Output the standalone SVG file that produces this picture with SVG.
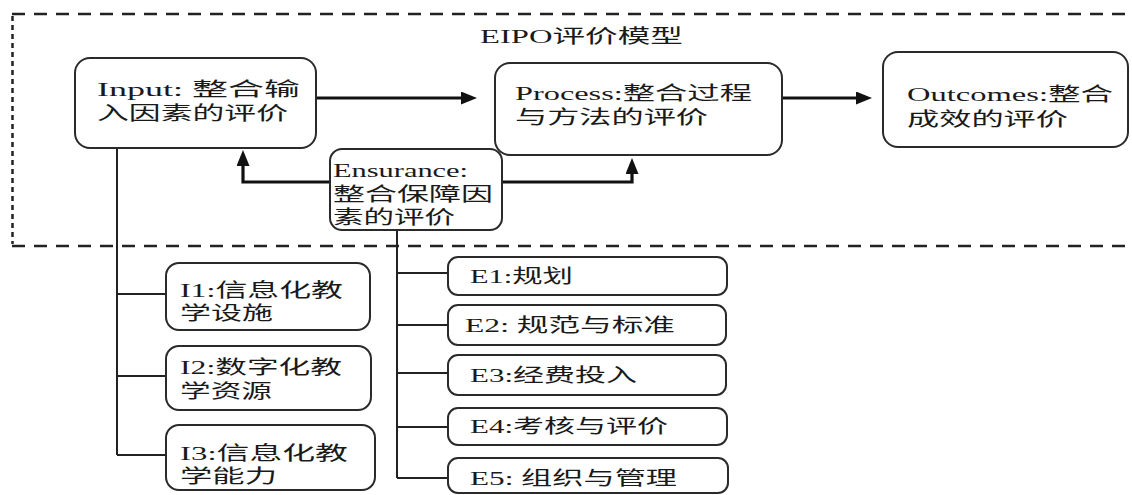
<svg xmlns="http://www.w3.org/2000/svg" width="1132" height="495" viewBox="0 0 1132 495">
  <style>
    .box { fill: #ffffff; stroke: #2a2a2a; stroke-width: 2; }
    .t { font-family: "Liberation Serif", "Noto Sans CJK SC", serif; font-size: 19px; fill: #1a1a1a; }
    .thick { fill: none; stroke: #111; stroke-width: 3.2; }
    .thin { fill: none; stroke: #222; stroke-width: 2; }
    .dash { fill: none; stroke: #222; stroke-width: 2.5; stroke-dasharray: 13 9; }
    .dashv { fill: none; stroke: #222; stroke-width: 2.5; stroke-dasharray: 5 4; }
  </style>
  <defs>
    <marker id="arr" markerUnits="userSpaceOnUse" markerWidth="16" markerHeight="13" refX="3" refY="6.5" orient="auto">
      <path d="M0,0 L16,6.5 L0,13 z" fill="#111"/>
    </marker>
  </defs>
  <rect width="1132" height="495" fill="#ffffff"/>

  <g id="frame">
    <line class="dash" x1="12" y1="14" x2="1132" y2="14"/>
    <line class="dash" x1="12" y1="246" x2="1132" y2="246"/>
    <line class="dashv" x1="12.5" y1="16" x2="12.5" y2="244"/>
    <text class="t" x="480" y="43" textLength="203" lengthAdjust="spacingAndGlyphs">EIPO评价模型</text>
  </g>

  <g id="connectors">
    <line class="thick" x1="316" y1="98" x2="464" y2="98" marker-end="url(#arr)"/>
    <line class="thick" x1="782" y1="98" x2="859" y2="98" marker-end="url(#arr)"/>
    <path class="thick" d="M330,182 H243 V163" marker-end="url(#arr)"/>
    <path class="thick" d="M502,182 H632 V171" marker-end="url(#arr)"/>
    <path class="thin" d="M117,148 V455 M117,294 H166 M117,376 H166 M117,455 H166"/>
    <path class="thin" d="M397,230 V478 M397,273 H448 M397,325 H448 M397,373 H448 M397,427 H448 M397,478 H448"/>
  </g>

  <g id="input">
    <rect class="box" x="75" y="58" width="241" height="90" rx="15"/>
    <text class="t" x="97" y="96" textLength="203" lengthAdjust="spacingAndGlyphs">Input: 整合输</text>
    <text class="t" x="97" y="120" textLength="191" lengthAdjust="spacingAndGlyphs">入因素的评价</text>
  </g>

  <g id="process">
    <rect class="box" x="495" y="63" width="287" height="92" rx="15"/>
    <text class="t" x="515" y="100" textLength="237" lengthAdjust="spacingAndGlyphs">Process:整合过程</text>
    <text class="t" x="515" y="124" textLength="193" lengthAdjust="spacingAndGlyphs">与方法的评价</text>
  </g>

  <g id="outcomes">
    <rect class="box" x="883" y="52" width="245" height="95" rx="15"/>
    <text class="t" x="907" y="101" textLength="206" lengthAdjust="spacingAndGlyphs">Outcomes:整合</text>
    <text class="t" x="907" y="126" textLength="161" lengthAdjust="spacingAndGlyphs">成效的评价</text>
  </g>

  <g id="ensurance">
    <rect class="box" x="330" y="149" width="172" height="81" rx="12"/>
    <text class="t" x="333" y="177" textLength="135" lengthAdjust="spacingAndGlyphs">Ensurance:</text>
    <text class="t" x="333" y="201" textLength="160" lengthAdjust="spacingAndGlyphs">整合保障因</text>
    <text class="t" x="333" y="224" textLength="122" lengthAdjust="spacingAndGlyphs">素的评价</text>
  </g>

  <g id="i1">
    <rect class="box" x="166" y="263" width="204" height="67" rx="13"/>
    <text class="t" x="180" y="297" textLength="163" lengthAdjust="spacingAndGlyphs">I1:信息化教</text>
    <text class="t" x="180" y="320" textLength="93" lengthAdjust="spacingAndGlyphs">学设施</text>
  </g>
  <g id="i2">
    <rect class="box" x="166" y="346" width="205" height="64" rx="13"/>
    <text class="t" x="180" y="374" textLength="162" lengthAdjust="spacingAndGlyphs">I2:数字化教</text>
    <text class="t" x="180" y="398" textLength="92" lengthAdjust="spacingAndGlyphs">学资源</text>
  </g>
  <g id="i3">
    <rect class="box" x="166" y="425" width="209" height="65" rx="13"/>
    <text class="t" x="180" y="460" textLength="168" lengthAdjust="spacingAndGlyphs">I3:信息化教</text>
    <text class="t" x="180" y="483" textLength="97" lengthAdjust="spacingAndGlyphs">学能力</text>
  </g>

  <g id="e1">
    <rect class="box" x="448" y="257" width="279" height="38" rx="10"/>
    <text class="t" x="470" y="283" textLength="103" lengthAdjust="spacingAndGlyphs">E1:规划</text>
  </g>
  <g id="e2">
    <rect class="box" x="448" y="305" width="278" height="40" rx="10"/>
    <text class="t" x="465" y="332" textLength="210" lengthAdjust="spacingAndGlyphs">E2: 规范与标准</text>
  </g>
  <g id="e3">
    <rect class="box" x="448" y="355" width="278" height="40" rx="10"/>
    <text class="t" x="470" y="382" textLength="167" lengthAdjust="spacingAndGlyphs">E3:经费投入</text>
  </g>
  <g id="e4">
    <rect class="box" x="448" y="408" width="279" height="37" rx="10"/>
    <text class="t" x="470" y="433" textLength="198" lengthAdjust="spacingAndGlyphs">E4:考核与评价</text>
  </g>
  <g id="e5">
    <rect class="box" x="448" y="458" width="280" height="35" rx="10"/>
    <text class="t" x="470" y="485" textLength="207" lengthAdjust="spacingAndGlyphs">E5: 组织与管理</text>
  </g>
</svg>
